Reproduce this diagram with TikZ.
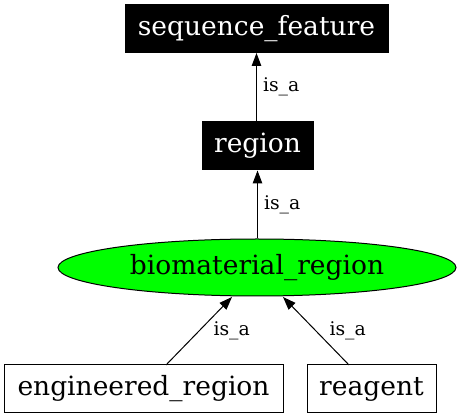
\documentclass[tikz,border=0pt]{standalone}
\usepackage{fontspec}
\setmainfont{DejaVu Serif}
\usetikzlibrary{arrows.meta,positioning,shapes.geometric}
\definecolor{termgreen}{RGB}{0,255,0}

\begin{document}
\begin{tikzpicture}[
  x=1pt, y=-1pt,
  term/.style={draw, line width=1pt, inner sep=0pt, minimum height=48pt, font=\fontsize{26.5}{30}\selectfont},
  darkterm/.style={term, fill=black, text=white},
  focus/.style={term, ellipse, fill=termgreen, minimum width=398pt, minimum height=57pt},
  arr/.style={-{Triangle[length=13pt,width=9.5pt]}, line width=1pt},
  rel/.style={font=\fontsize{18.8}{22}\selectfont, inner sep=1pt}
]
\useasboundingbox (0,0) rectangle (461,419);
\node[darkterm, minimum width=263pt] (seqfeat) at (256.5,28.5) {sequence\_feature};
\node[darkterm, minimum width=111pt] (region) at (257.5,146) {region};
\node[focus] (biomat) at (257,267.5) {biomaterial\_region};
\node[term, minimum width=279pt] (engineered) at (143.5,389) {engineered\_region};
\node[term, minimum width=129pt] (reagent) at (371.5,389) {reagent};
\draw[arr] (region.north -| seqfeat.south) -- (seqfeat.south) node[rel, midway, right=5pt] {is\_a};
\draw[arr] (biomat.north -| region.south) -- (region.south) node[rel, midway, right=5pt] {is\_a};
\draw[arr] (166,365) coordinate (engtop) -- (232,297) coordinate (biomatl) node[rel, midway, right=13pt] {is\_a};
\draw[arr] (349,365) coordinate (reatop) -- (283,297) coordinate (biomatr) node[rel, midway, right=12pt] {is\_a};
\end{tikzpicture}
\end{document}
